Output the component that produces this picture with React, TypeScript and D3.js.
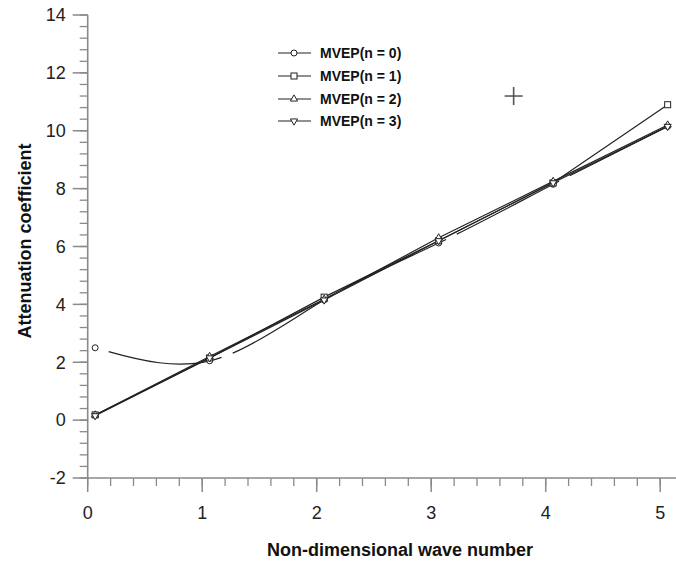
import React from "react";
import * as d3 from "d3";

const xValues = [0.065, 1.065, 2.065, 3.065, 4.065, 5.065];
const seriesNames = ["MVEP(n = 0)", "MVEP(n = 1)", "MVEP(n = 2)", "MVEP(n = 3)"];
const n0 = [2.5, 2.05, 4.15, 6.12, 8.15, 10.15];
const n1 = [0.18, 2.15, 4.25, 6.2, 8.2, 10.9];
const n2 = [0.18, 2.2, 4.18, 6.3, 8.25, 10.2];
const n3 = [0.15, 2.15, 4.15, 6.2, 8.2, 10.15];
const seriesValues = [n0, n1, n2, n3];
const markerTypes = ["circle", "square", "triangle", "triangleDown"];
const xMajorTicks = [0, 1, 2, 3, 4, 5];
const yMajorTicks = [-2, 0, 2, 4, 6, 8, 10, 12, 14];
const crossPoint = [3.72, 11.2];

const W = 676;
const H = 563;
const FONT = "'Liberation Sans', Arial, Helvetica, sans-serif";

const x = d3.scaleLinear().domain([0, 5.2]).range([87.7, 683.1]);
const y = d3.scaleLinear().domain([-2, 14]).range([478, 15]);

function Marker({ type, cx, cy }: { type: string; cx: number; cy: number }) {
  const st = { fill: "#fff", stroke: "#222", strokeWidth: 1 };
  if (type === "circle") return <circle cx={cx} cy={cy} r={3} {...st} />;
  if (type === "square") return <rect x={cx - 3} y={cy - 3} width={6} height={6} {...st} />;
  const sym = d3.symbol().type(d3.symbolTriangle).size(22)();
  const rot = type === "triangleDown" ? 180 : 0;
  return <path d={sym as string} transform={`translate(${cx},${cy}) rotate(${rot})`} {...st} />;
}

export default function App() {
  const axisColor = "#8a8a8a";
  const xMinor = d3.range(0, 5.2001, 0.2).map((v) => +v.toFixed(2));
  const yMinor = d3.range(-2, 14.0001, 0.4).map((v) => +v.toFixed(2));

  const linear = d3
    .line<number>()
    .x((_, i) => x(xValues[i]))
    .y((d) => y(d));
  const smooth = d3
    .line<number>()
    .x((_, i) => x(xValues[i]))
    .y((d) => y(d))
    .curve(d3.curveNatural);

  const legendRows = [53, 76, 99, 121];

  return (
    <div style={{ position: "absolute", left: 0, top: 0 }}>
      <svg width={W} height={H} style={{ display: "block", background: "#fff" }} fontFamily={FONT}>
        <rect x={0} y={0} width={W} height={H} fill="#fff" />
        {/* axes */}
        <line x1={x(0)} x2={W} y1={y(-2)} y2={y(-2)} stroke={axisColor} strokeWidth={1.6} />
        <line x1={x(0)} x2={x(0)} y1={y(14)} y2={y(-2)} stroke={axisColor} strokeWidth={1.6} />
        {yMinor.map((v) => (
          <line key={"ym" + v} x1={x(0) - 8} x2={x(0)} y1={y(v)} y2={y(v)} stroke={axisColor} strokeWidth={1.3} />
        ))}
        {yMajorTicks.map((v) => (
          <g key={"yM" + v}>
            <line x1={x(0) - 15} x2={x(0)} y1={y(v)} y2={y(v)} stroke={axisColor} strokeWidth={1.5} />
            <text x={x(0) - 22} y={y(v)} dy="0.35em" textAnchor="end" fontSize={18} fill="#222">
              {v}
            </text>
          </g>
        ))}
        {xMinor.map((v) => (
          <line key={"xm" + v} x1={x(v)} x2={x(v)} y1={y(-2)} y2={y(-2) + 8} stroke={axisColor} strokeWidth={1.3} />
        ))}
        {xMajorTicks.map((v) => (
          <g key={"xM" + v}>
            <line x1={x(v)} x2={x(v)} y1={y(-2)} y2={y(-2) + 14} stroke={axisColor} strokeWidth={1.5} />
            <text x={x(v)} y={y(-2) + 41} textAnchor="middle" fontSize={18} fill="#222">
              {v}
            </text>
          </g>
        ))}
        {/* axis titles */}
        <text x={400} y={556} textAnchor="middle" fontSize={18} fontWeight="bold" fill="#111">
          Non-dimensional wave number
        </text>
        <text
          transform={`translate(31,241) rotate(-90)`}
          textAnchor="middle"
          fontSize={18}
          fontWeight="bold"
          fill="#111"
        >
          Attenuation coefficient
        </text>
        {/* series lines */}
        {seriesValues.map((vals, si) => (
          <path
            key={"s" + si}
            d={(si === 0 ? smooth(vals) : linear(vals)) as string}
            fill="none"
            stroke="#222"
            strokeWidth={1.2}
            strokeDasharray={si === 0 ? "115 12" : undefined}
            strokeDashoffset={si === 0 ? 113 : undefined}
          />
        ))}
        {seriesValues.map((vals, si) =>
          vals.map((v, i) => <Marker key={`m${si}-${i}`} type={markerTypes[si]} cx={x(xValues[i])} cy={y(v)} />)
        )}
        {/* legend */}
        {seriesNames.map((name, i) => (
          <g key={"lg" + i}>
            <line x1={278} x2={311} y1={legendRows[i]} y2={legendRows[i]} stroke="#222" strokeWidth={1.2} />
            <Marker type={markerTypes[i]} cx={294} cy={legendRows[i]} />
            <text x={320} y={legendRows[i]} dy="0.35em" fontSize={14} fontWeight="bold" fill="#111">
              {name}
            </text>
          </g>
        ))}
        {/* cross marker */}
        <line
          x1={x(crossPoint[0]) - 9}
          x2={x(crossPoint[0]) + 9}
          y1={y(crossPoint[1])}
          y2={y(crossPoint[1])}
          stroke="#444"
          strokeWidth={1.4}
        />
        <line
          x1={x(crossPoint[0])}
          x2={x(crossPoint[0])}
          y1={y(crossPoint[1]) - 9}
          y2={y(crossPoint[1]) + 9}
          stroke="#555"
          strokeWidth={1.6}
        />
      </svg>
    </div>
  );
}
